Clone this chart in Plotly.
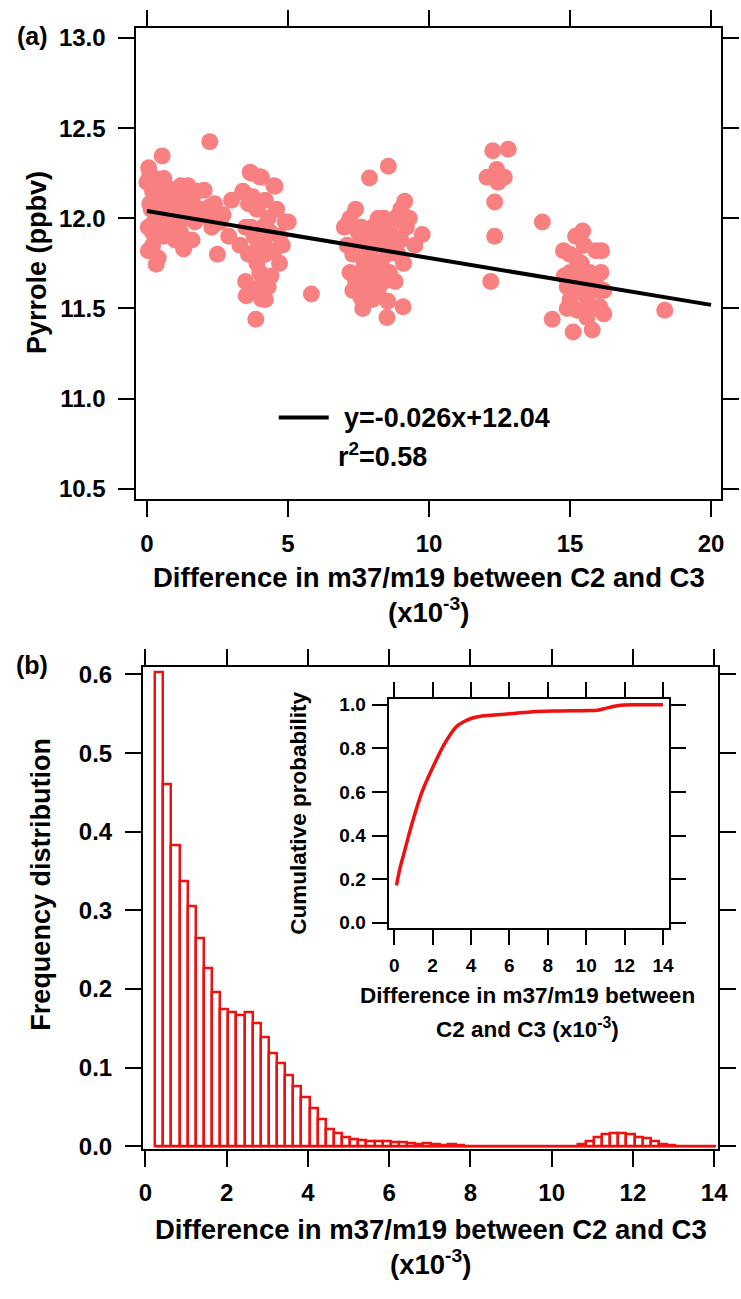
import plotly.graph_objects as go
import numpy as np

# ---------------- data: panel (a) scatter (x1e-3, ppbv) ----------------
scatter_x = [
    # cluster near 0-2
    0.06, 0.54, 0.33, 0.0, 0.1, 0.2, 0.3, 0.15, 0.05, 0.25, 0.4, 0.45, 0.6, 0.7, 0.8, 0.9, 1.0, 1.1,
    1.2, 1.3, 1.46, 1.6, 1.8, 2.03, 0.2, 0.4, 0.6, 0.8, 1.0, 1.2, 1.4, 1.6, 0.1, 0.3, 0.5, 0.7,
    0.9, 1.1, 1.3, 1.5, 1.7, 0.2, 0.4, 0.6, 1.0, 1.3, 1.6, 0.05, 0.35, 0.75, 1.9,
    # cluster 2-3
    2.23, 2.23, 2.3, 2.6, 2.9, 2.5, 2.2, 2.7, 3.0, 2.4,
    # cluster 3.3-5
    3.66, 4.06, 4.54, 3.41, 3.4, 3.7, 4.0, 4.5, 3.6, 3.9, 4.2, 4.6, 4.9, 5.01, 3.5, 3.8, 4.1, 4.4,
    4.7, 3.6, 3.9, 4.2, 4.5, 4.7, 3.5, 3.8, 4.1, 4.4, 3.52, 4.06, 3.86, 4.2, 4.3, 4.0, 3.3, 3.7,
    4.3, 4.8, 3.95, 4.15, 3.75,
    5.83,
    # cluster 7-9.5
    7.2, 7.4, 7.6, 7.8, 8.0, 8.2, 8.4, 8.6, 8.8, 9.0, 9.2, 7.1, 7.3, 7.5, 7.7, 7.9, 8.1, 8.3, 8.5,
    8.7, 8.9, 9.1, 7.2, 7.4, 7.6, 7.8, 8.0, 8.2, 8.4, 8.6, 8.8, 7.59, 7.65, 8.54, 9.08, 8.51, 7.89,
    8.56, 9.14, 9.76, 9.5, 9.3, 7.0, 8.3, 8.0, 7.3, 7.5, 8.7, 8.1, 9.0, 7.15,
    # cluster 12-13
    12.26, 12.81, 12.40, 12.06, 12.67, 12.33, 12.33, 12.19, 12.45,
    14.02,
    # cluster 14.8-16.3
    15.45, 15.92, 16.12, 14.77, 15.0, 15.2, 15.4, 15.0, 14.9, 15.1, 15.3, 15.5, 15.7, 15.9, 16.1,
    16.2, 15.6, 15.8, 16.06, 16.2, 15.25, 14.9, 14.37, 15.11, 15.79, 15.0, 15.5, 15.2, 14.8, 15.3,
    16.0, 15.6,
    18.36,
]
scatter_y = [
    12.28, 12.346, 11.745, 12.2, 12.24, 12.15, 12.22, 12.05, 11.95, 11.98, 12.1, 12.18, 12.22, 12.15, 12.12, 12.16, 12.1, 12.14,
    12.18, 12.12, 12.18, 12.14, 12.15, 12.155, 11.85, 11.78, 11.9, 11.95, 11.88, 11.92, 12.0, 11.88, 12.08, 12.0, 11.95, 12.05,
    12.02, 11.98, 11.85, 12.05, 11.98, 11.92, 12.0, 12.1, 12.04, 11.83, 12.1, 11.82, 12.12, 11.98, 12.05,
    12.425, 12.064, 11.95, 11.98, 11.9, 11.8, 12.0, 12.02, 12.1, 12.08,
    12.255, 12.228, 12.177, 12.146, 12.15, 12.25, 12.23, 12.18, 12.08, 12.05, 12.1, 12.05, 11.98, 11.98, 11.95, 11.9, 11.95, 11.92,
    11.9, 11.8, 11.75, 11.8, 11.82, 11.75, 11.65, 11.6, 11.65, 11.68, 11.57, 11.553, 11.44, 11.55, 11.62, 11.7, 11.85, 11.95,
    12.0, 11.85, 11.85, 11.88, 12.12,
    11.58,
    12.0, 12.05, 11.95, 11.9, 11.95, 12.0, 12.0, 11.95, 12.0, 12.05, 11.95, 11.85, 11.8, 11.85, 11.75, 11.8, 11.85, 11.75, 11.8,
    11.85, 11.8, 11.75, 11.7, 11.65, 11.7, 11.62, 11.68, 11.6, 11.65, 11.7, 11.65, 11.56, 11.50, 11.54, 11.51, 11.45, 12.224,
    12.288, 12.095, 11.91, 11.85, 12.0, 11.95, 11.9, 11.55, 11.6, 11.92, 11.9, 11.72, 11.88, 11.98,
    12.374, 12.383, 12.27, 12.228, 12.228, 12.09, 11.90, 11.65, 12.2,
    11.98,
    11.93, 11.82, 11.82, 11.82, 11.8, 11.78, 11.75, 11.7, 11.62, 11.65, 11.6, 11.62, 11.7, 11.65, 11.7,
    11.6, 11.55, 11.5, 11.51, 11.47, 11.49, 11.5, 11.44, 11.37, 11.38, 11.55, 11.85, 11.9, 11.68, 11.7,
    11.6, 11.45,
    11.49,
]

fit_slope = -0.026
fit_intercept = 12.04
fit_x = [0.0, 20.0]

# ---------------- data: panel (b) histogram ----------------
bin_start = 0.24
bin_width = 0.2
freq = [
    0.603, 0.460, 0.383, 0.337, 0.305, 0.264, 0.226, 0.196, 0.174, 0.170,
    0.167, 0.171, 0.157, 0.139, 0.119, 0.106, 0.091, 0.076, 0.062, 0.048,
    0.035, 0.022, 0.017, 0.012, 0.009, 0.008, 0.007, 0.006, 0.006, 0.005,
    0.005, 0.004, 0.003, 0.004, 0.003, 0.002, 0.003, 0.001, 0.0, 0.0,
    0.0, 0.0, 0.0, 0.0, 0.0, 0.0, 0.0, 0.0, 0.0, 0.0,
    0.0, 0.0, 0.003, 0.007, 0.011, 0.015, 0.017, 0.017, 0.015, 0.012,
    0.010, 0.007, 0.003, 0.001, 0.0, 0.0, 0.0, 0.0, 0.0,
]

# ---------------- data: inset cumulative probability ----------------
cdf_x = [0.12, 0.3, 0.5, 0.86, 1.45, 2.05, 2.65, 3.25, 3.7, 4.04, 4.5, 5.23,
         6.2, 7.22, 8.5, 10.2, 10.6, 11.0, 11.4, 11.8, 12.5, 14.0]
cdf_y = [0.172, 0.25, 0.315, 0.434, 0.60, 0.72, 0.825, 0.90, 0.925, 0.938, 0.947, 0.953,
         0.960, 0.968, 0.971, 0.973, 0.975, 0.983, 0.992, 0.998, 1.0, 1.0]

# ---------------- layout helpers ----------------
W, H = 741, 1299
def fx(p):
    return p / W
def fy(p):
    return 1 - p / H

FONT = "Arial, 'Liberation Sans', Helvetica, sans-serif"
RED = "#f01010"
PINK = "rgb(248,128,128)"

fig = go.Figure()

fig.add_trace(go.Scatter(
    x=scatter_x, y=scatter_y, mode="markers",
    marker=dict(size=17, color=PINK, line=dict(width=0)),
    xaxis="x", yaxis="y", showlegend=False, hoverinfo="skip"))

fit_y = [fit_slope * v + fit_intercept for v in fit_x]
fig.add_trace(go.Scatter(
    x=fit_x, y=fit_y, mode="lines", line=dict(color="black", width=4),
    xaxis="x", yaxis="y", showlegend=False, hoverinfo="skip"))

centers = [bin_start + bin_width * (i + 0.5) for i in range(len(freq))]
fig.add_trace(go.Bar(
    x=centers, y=freq, width=bin_width,
    marker=dict(color="white", line=dict(color=RED, width=2.5)),
    xaxis="x2", yaxis="y2", showlegend=False, hoverinfo="skip"))
edges = [bin_start, bin_start + bin_width * len(freq)]
fig.add_trace(go.Scatter(
    x=edges, y=[0, 0], mode="lines", line=dict(color=RED, width=2.5),
    xaxis="x2", yaxis="y2", showlegend=False, hoverinfo="skip"))

fig.add_trace(go.Scatter(
    x=cdf_x, y=cdf_y, mode="lines", line=dict(color=RED, width=3.5, shape="spline", smoothing=0.8),
    xaxis="x3", yaxis="y3", showlegend=False, hoverinfo="skip"))

def axis(domain, rng, dtick, fmt, size, ticklen, anchor, standoff=None):
    d = dict(domain=domain, range=rng, dtick=dtick, tick0=0, tickformat=fmt,
             showgrid=False, zeroline=False, showline=True, linecolor="black",
             linewidth=2, mirror="allticks", ticks="outside", ticklen=ticklen,
             tickwidth=2, tickcolor="black", anchor=anchor,
             tickfont=dict(family=FONT, size=size, color="black", weight="bold"))
    if standoff is not None:
        d["ticklabelstandoff"] = standoff
    return d

fig.update_layout(
    width=W, height=H, margin=dict(l=0, r=0, t=0, b=0),
    paper_bgcolor="white", plot_bgcolor="white",
    xaxis=axis([fx(135), fx(730.7)], [-0.372, 20.35], 5, "d", 24, 16, "y", 6),
    yaxis=axis([fy(500), fy(22.3)], [10.441, 13.055], 0.5, ".1f", 24, 16, "x", 8),
    xaxis2=axis([fx(141.7), fx(728)], [-0.06, 14.1], 2, "d", 24, 16, "y2", 6),
    yaxis2=axis([fy(1157.7), fy(670)], [-0.0028, 0.6092], 0.1, ".1f", 24, 16, "x2", 8),
    xaxis3=axis([fx(392), fx(677.5)], [-0.29, 14.3], 2, "d", 19, 15, "y3", 4),
    yaxis3=axis([fy(934), fy(702)], [-0.0226, 1.027], 0.2, ".1f", 19, 15, "x3", 2),
    bargap=0,
)

def ann(text, x, y, size, xanchor="center", yanchor="middle", angle=0):
    fig.add_annotation(text=text, x=fx(x), y=fy(y), xref="paper", yref="paper",
                       showarrow=False, xanchor=xanchor, yanchor=yanchor,
                       textangle=angle,
                       font=dict(family=FONT, size=size, color="black", weight="bold"))

ann("(a)", 29, 30, 25)
ann("(b)", 29, 668, 25)
ann("Pyrrole (ppbv)", 33, 260, 27, angle=-90)
ann("Difference in m37/m19 between C2 and C3", 433, 579, 27.5)
ann("(x10<sup>-3</sup>)", 433, 613, 27.5)
ann("Frequency distribution", 38, 890, 27, angle=-90)
ann("Difference in m37/m19 between C2 and C3", 435, 1240, 27.5)
ann("(x10<sup>-3</sup>)", 435, 1273, 27.5)
ann("Cumulative probability", 300, 818, 22.5, angle=-90)
ann("Difference in m37/m19 between", 534, 1003, 22.5)
ann("C2 and C3 (x10<sup>-3</sup>)", 534, 1036, 22.5)
ann("y=-0.026x+12.04", 344, 417, 27, xanchor="left")
ann("r<sup>2</sup>=0.58", 338, 455, 27, xanchor="left")

fig.add_shape(type="line", xref="paper", yref="paper",
              x0=fx(280), x1=fx(331), y0=fy(417), y1=fy(417),
              line=dict(color="black", width=4))

fig.write_html("out.html")
